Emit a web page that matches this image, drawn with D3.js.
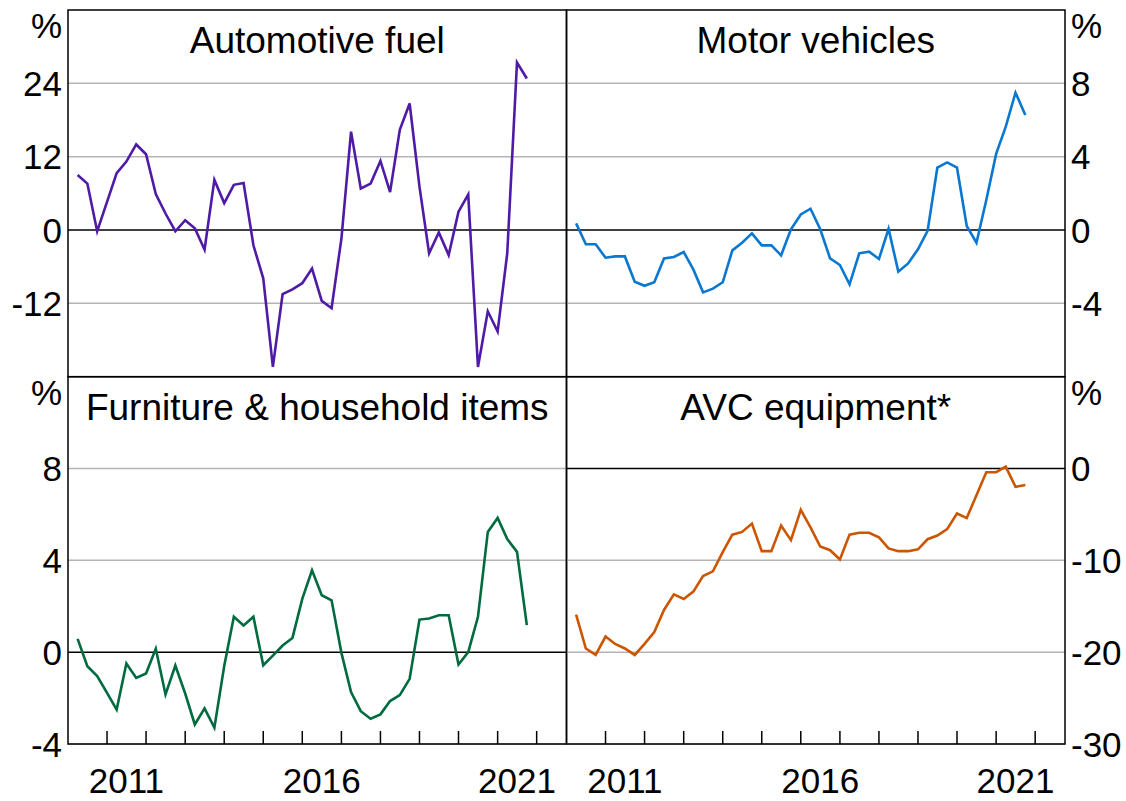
<!DOCTYPE html>
<html>
<head>
<meta charset="utf-8">
<script src="https://cdn.jsdelivr.net/npm/d3@7"></script>
<style>
  html, body { margin: 0; padding: 0; background: #fff; }
  svg { display: block; }
  text { font-family: Arial, "Liberation Sans", Helvetica, sans-serif; fill: #000; }
</style>
</head>
<body>
<svg id="chart" width="1126" height="801"></svg>
<script>
// Quarterly observations, March quarter 2010 to September quarter 2021 (end-of-quarter dates)
const quarterEnds = [];
for (let y = 2010; y <= 2021; y++) {
  for (const m of [3, 6, 9, 12]) {
    if (y === 2021 && m === 12) continue;
    quarterEnds.push(`${y}-${String(m).padStart(2, "0")}`);
  }
}

const automotiveFuel = [9.0, 7.6, -0.2, 4.6, 9.3, 11.2, 14.0, 12.4, 5.9, 2.7, -0.2, 1.6, 0.3, -3.2, 8.2, 4.4,
  7.4, 7.7, -2.5, -7.9, -22.4, -10.5, -9.7, -8.7, -6.3, -11.6, -12.8, -1.4, 16.1, 6.8, 7.6, 11.3,
  6.2, 16.4, 20.7, 7.1, -3.8, -0.4, -4.1, 3.0, 5.8, -22.4, -13.3, -16.6, -3.8, 27.4, 24.8];

const motorVehicles = [0.36, -0.78, -0.78, -1.51, -1.44, -1.44, -2.82, -3.04, -2.85, -1.55, -1.47, -1.2, -2.15, -3.4, -3.2, -2.85,
  -1.11, -0.69, -0.18, -0.84, -0.84, -1.38, 0.04, 0.85, 1.16, 0.04, -1.55, -1.91, -2.96, -1.27, -1.18, -1.58,
  0.07, -2.27, -1.82, -1.05, -0.05, 3.4, 3.69, 3.4, 0.22, -0.69, 1.64, 4.15, 5.64, 7.49, 6.27];

const furnitureHousehold = [0.58, -0.61, -1.04, -1.77, -2.5, -0.49, -1.12, -0.93, 0.15, -1.84, -0.58, -1.8, -3.15, -2.45, -3.29, -0.6,
  1.54, 1.16, 1.54, -0.57, -0.15, 0.29, 0.62, 2.32, 3.57, 2.48, 2.26, -0.03, -1.74, -2.57, -2.9, -2.71,
  -2.13, -1.87, -1.16, 1.42, 1.47, 1.61, 1.61, -0.54, 0.0, 1.54, 5.24, 5.85, 4.93, 4.37, 1.18];

const avcEquipment = [-15.9, -19.6, -20.3, -18.3, -19.1, -19.6, -20.3, -19.1, -17.8, -15.4, -13.7, -14.2, -13.4, -11.7, -11.2, -9.1,
  -7.2, -6.9, -6.0, -9.0, -9.0, -6.2, -7.8, -4.5, -6.4, -8.5, -8.9, -9.9, -7.2, -7.0, -7.0, -7.5,
  -8.7, -9.0, -9.0, -8.8, -7.7, -7.3, -6.6, -4.9, -5.4, -2.9, -0.4, -0.4, 0.2, -2.0, -1.8];

// Panel titles, axis domains and tick labels
const panelTitles = ["Automotive fuel", "Motor vehicles", "Furniture & household items", "AVC equipment*"];
const yDomains = [[-24, 36], [-8, 12], [-4, 12], [-30, 10]];
const yTicks = [[24, 12, 0, -12], [8, 4, 0, -4], [8, 4, 0, -4], [0, -10, -20, -30]];
const seriesColors = ["#4f1ba6", "#0a77d0", "#006b3f", "#cc5500"];
const yearTickYears = [2011, 2012, 2013, 2014, 2015, 2016, 2017, 2018, 2019, 2020, 2021, 2022];
const yearLabels = [2011, 2016, 2021];

const allSeries = [automotiveFuel, motorVehicles, furnitureHousehold, avcEquipment];

// ---- layout ----
const svg = d3.select("#chart");
const colX = [[68, 566.5], [566.5, 1065]];
const rowY = [[10, 376.7], [376.7, 744]];
const fontTick = 35;
const fontTitle = 37;

const parseQ = d3.timeParse("%Y-%m");
// place each quarter at the end of its final month
const qDate = s => d3.timeMonth.offset(parseQ(s), 1);

const xDomain = [new Date(2010, 0, 1), new Date(2022, 9, 7)];

const panels = [
  { col: 0, row: 0, side: "left" },
  { col: 1, row: 0, side: "right" },
  { col: 0, row: 1, side: "left" },
  { col: 1, row: 1, side: "right" }
];

panels.forEach((p, i) => {
  const [x0, x1] = colX[p.col];
  const [y0, y1] = rowY[p.row];
  const x = d3.scaleTime().domain(xDomain).range([x0, x1]);
  const y = d3.scaleLinear().domain(yDomains[i]).range([y1, y0]);
  const g = svg.append("g");

  // gridlines
  yTicks[i].forEach(t => {
    g.append("line")
      .attr("x1", x0).attr("x2", x1)
      .attr("y1", y(t)).attr("y2", y(t))
      .attr("stroke", t === 0 ? "#000" : "#b4b4b4")
      .attr("stroke-width", 1.5);
  });

  // tick labels
  const labX = p.side === "left" ? 62 : 1071;
  const anchor = p.side === "left" ? "end" : "start";
  yTicks[i].forEach(t => {
    g.append("text")
      .attr("x", labX).attr("y", y(t))
      .attr("dy", "0.36em")
      .attr("text-anchor", anchor)
      .attr("font-size", fontTick)
      .text(t);
  });
  g.append("text")
    .attr("x", labX).attr("y", y0 + 28)
    .attr("text-anchor", anchor)
    .attr("font-size", fontTick)
    .text("%");

  // title
  g.append("text")
    .attr("x", (x0 + x1) / 2).attr("y", y0 + 43)
    .attr("text-anchor", "middle")
    .attr("font-size", fontTitle)
    .text(panelTitles[i]);

  // x ticks on bottom row
  if (p.row === 1) {
    yearTickYears.forEach(yr => {
      const xx = x(new Date(yr, 0, 1));
      g.append("line")
        .attr("x1", xx).attr("x2", xx)
        .attr("y1", y1).attr("y2", y1 - 13)
        .attr("stroke", "#000").attr("stroke-width", 1.5);
    });
    yearLabels.forEach(yr => {
      const xx = x(new Date(yr, 6, 1));
      g.append("text")
        .attr("x", xx).attr("y", 793)
        .attr("text-anchor", "middle")
        .attr("font-size", fontTick)
        .text(yr);
    });
  }

  // series line
  const data = allSeries[i].map((v, k) => ({ date: qDate(quarterEnds[k]), value: v }));
  g.append("path")
    .datum(data)
    .attr("fill", "none")
    .attr("stroke", seriesColors[i])
    .attr("stroke-width", 2.6)
    .attr("stroke-linejoin", "miter")
    .attr("d", d3.line().x(d => x(d.date)).y(d => y(d.value)));

  // frame
  g.append("rect")
    .attr("x", x0).attr("y", y0)
    .attr("width", x1 - x0).attr("height", y1 - y0)
    .attr("fill", "none").attr("stroke", "#000").attr("stroke-width", 1.5);
});
</script>
</body>
</html>
